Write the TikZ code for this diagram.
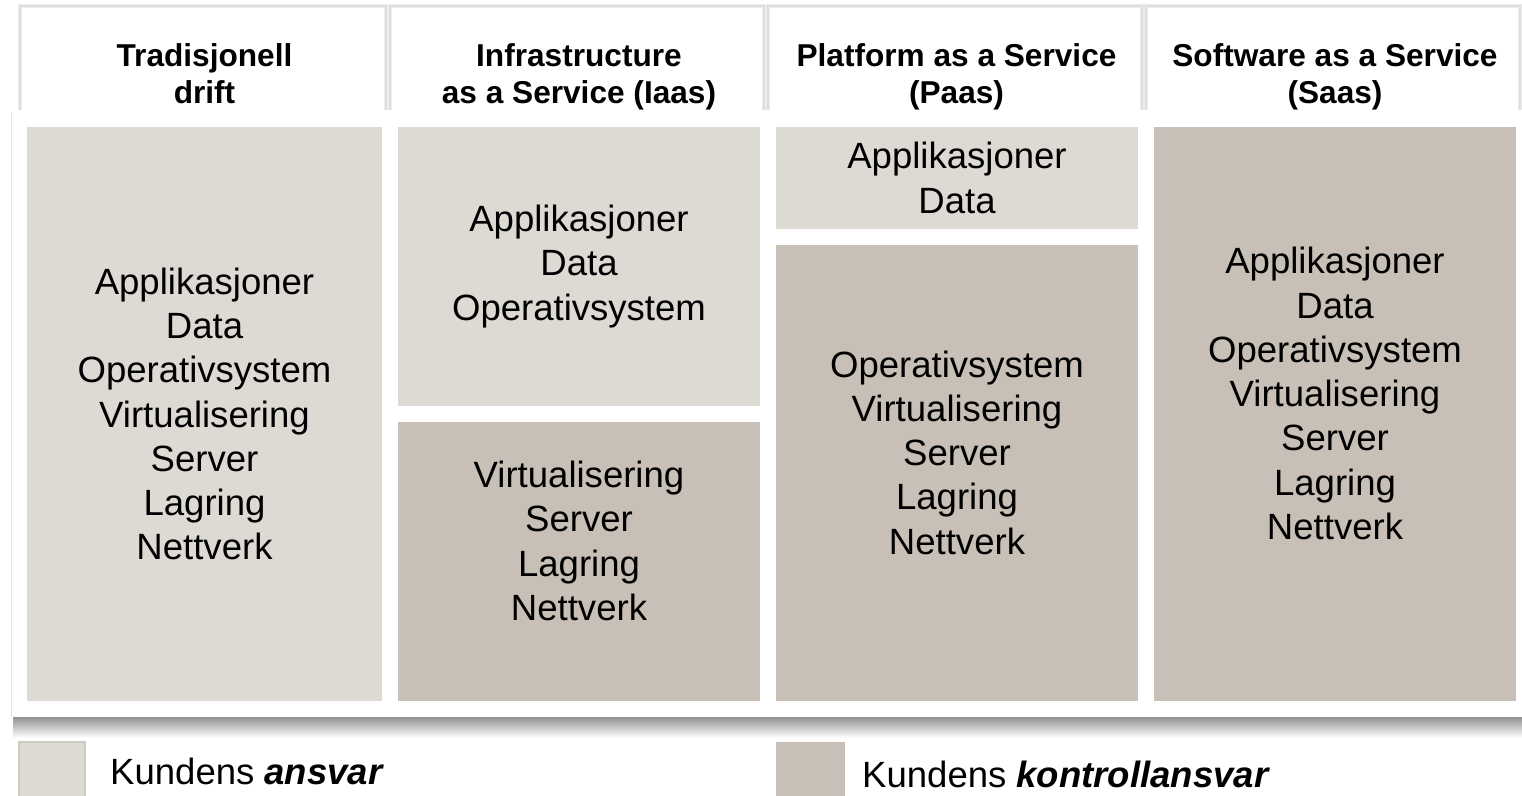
\documentclass[tikz,border=0pt]{standalone}
\usepackage{fontspec}
\setmainfont{Liberation Sans}
\usepackage{tikz}

\definecolor{lightbox}{RGB}{221,218,211}
\definecolor{darkbox}{RGB}{200,192,182}
\definecolor{lightedge}{RGB}{206,201,193}

\tikzset{
  headframe/.style={draw=black!7, line width=0.09cm},
  headline/.style={draw=black!13, line width=0.025cm},
  head/.style={align=center, font=\bfseries\fontsize{18}{21}\selectfont},
  cell/.style={align=center, font=\fontsize{20.8}{25.2}\selectfont},
  lifted/.style={yshift=0.41cm},
  legend/.style={anchor=west, font=\fontsize{20.8}{25}\selectfont}
}

\begin{document}
\begin{tikzpicture}[x=0.02cm, y=-0.02cm]
  \useasboundingbox (0,0) rectangle (1522,795);
  \clip (0,0) rectangle (1522,795);
  % Header frames
  \foreach \l/\r in {20/386, 390/764, 768/1142, 1146/1520} {
    \draw[headframe] (\l,6) rectangle (\r,118);
    \draw[headline] (\l,6) rectangle (\r,118);
  }
  % Header titles
  \node[head] (h1) at (204.5,78) {\strut Tradisjonell\\\strut drift};
  \node[head] (h2) at (579,78) {\strut Infrastructure\\\strut as a Service (Iaas)};
  \node[head] (h3) at (956.5,78) {\strut Platform as a Service\\\strut (Paas)};
  \node[head] (h4) at (1335,78) {\strut Software as a Service\\\strut (Saas)};
  % Main panel with shadow
  \shade[top color=black!45, bottom color=white] (13,716) rectangle (1530,738);
  \fill[white] (11,110) rectangle (1530,717);
  \draw[black!10] (11,112) -- (11,717);
  % Tiles
  \draw[fill=lightbox, draw=none] (27,127) rectangle (382,701) node[midway, cell] (trad) {Applikasjoner\\Data\\Operativsystem\\Virtualisering\\Server\\Lagring\\Nettverk};
  \draw[fill=lightbox, draw=none] (398,127) rectangle (760,406) node[midway, cell] (iaasTop) {Applikasjoner\\Data\\Operativsystem};
  \draw[fill=darkbox, draw=none] (398,422) rectangle (760,701) node[midway, cell, lifted] (iaasBot) {Virtualisering\\Server\\Lagring\\Nettverk};
  \draw[fill=lightbox, draw=none] (776,127) rectangle (1138,229) node[midway, cell] (paasTop) {Applikasjoner\\Data};
  \draw[fill=darkbox, draw=none] (776,245) rectangle (1138,701) node[midway, cell, lifted] (paasBot) {Operativsystem\\Virtualisering\\Server\\Lagring\\Nettverk};
  \draw[fill=darkbox, draw=none] (1154,127) rectangle (1516,701) node[midway, cell, lifted] (saas) {Applikasjoner\\Data\\Operativsystem\\Virtualisering\\Server\\Lagring\\Nettverk};
  % Legend
  \draw[fill=lightbox, draw=lightedge, line width=0.04cm] (19,742) rectangle (85,805);
  \node[legend] (legA) at (104,771) {Kundens \textbf{\textit{ansvar}}};
  \fill[darkbox] (776,742) rectangle (845,805);
  \node[legend] (legB) at (856,774) {Kundens \textbf{\textit{kontrollansvar}}};
\end{tikzpicture}
\end{document}
